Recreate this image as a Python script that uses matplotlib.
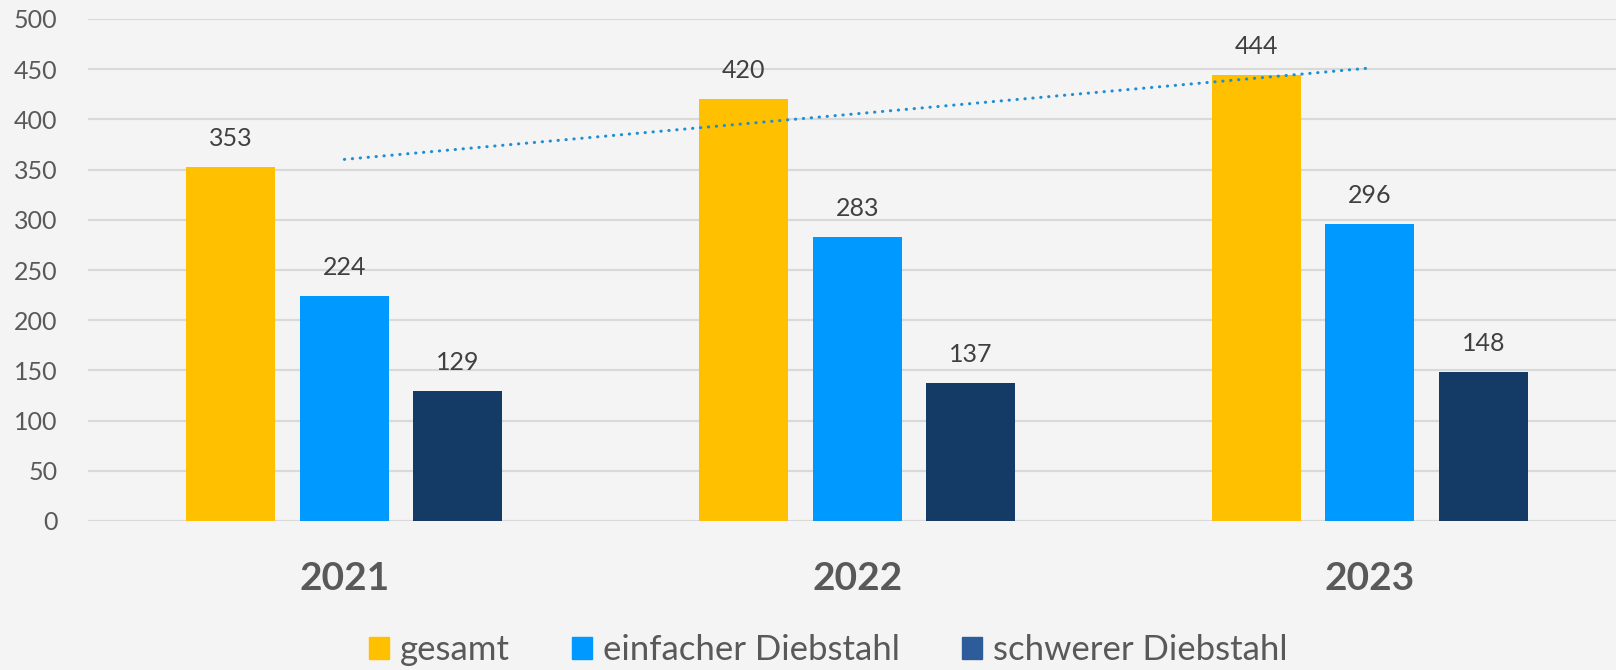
import numpy as np
import matplotlib
matplotlib.use("Agg")
import matplotlib.pyplot as plt
import matplotlib.patches as patches

years = ["2021", "2022", "2023"]
series = ["gesamt", "einfacher Diebstahl", "schwerer Diebstahl"]
gesamt = [353, 420, 444]
einfach = [224, 283, 296]
schwer = [129, 137, 148]

bar_colors = ["#FFC000", "#0099FF", "#143A66"]
legend_colors = ["#FFC000", "#0099FF", "#2E5C9A"]
bg = "#F4F4F4"
txt = "#404040"

plt.rcParams['font.family'] = ['Lato', 'DejaVu Sans']

fig = plt.figure(figsize=(16.16, 6.70), dpi=100)
fig.patch.set_facecolor(bg)
ax = fig.add_axes([88 / 1616, 1 - 521 / 670, 1 - 88 / 1616, (521 - 19) / 670])
ax.set_facecolor(bg)

x = np.arange(len(years))
w = 0.1736
off = 0.2213
for i, vals in enumerate([gesamt, einfach, schwer]):
    pos = x + (i - 1) * off
    ax.bar(pos, vals, width=w, color=bar_colors[i], zorder=3)
    for p, v in zip(pos, vals):
        ax.text(p, v + 21, str(v), ha="center", va="baseline",
                fontsize=18, color=txt, zorder=4)

# linear trend line for "gesamt"
k, d = np.polyfit(x, gesamt, 1)
ax.plot(x[[0, -1]], k * x[[0, -1]] + d, color="#1E8FD2", lw=2.2,
        linestyle=(0, (0.1, 2.5)), dash_capstyle="round", zorder=5)

ax.set_ylim(0, 500)
ax.set_xlim(-0.5, 2.48)
ax.set_yticks(range(0, 501, 50))
ax.yaxis.grid(True, color="#D9D9D9", lw=1.6, zorder=0)
ax.tick_params(axis="y", length=0, pad=22, labelsize=18, labelcolor="#595959")
ax.set_xticks(x)
ax.set_xticklabels(years, fontsize=28, fontweight="bold", color="#595959")
ax.tick_params(axis="x", length=0, pad=29)
for s in ax.spines.values():
    s.set_visible(False)

handles = [patches.Patch(color=c, label=l) for c, l in zip(legend_colors, series)]
fig.legend(handles=handles, loc="center", bbox_to_anchor=(828 / 1616, 1 - 650 / 670),
           ncol=3, frameon=False, fontsize=25, labelcolor="#595959",
           handlelength=0.58, handleheight=0.58, handletextpad=0.3,
           columnspacing=1.8, borderpad=0)

fig.savefig("out.png", dpi=100, facecolor=bg)
